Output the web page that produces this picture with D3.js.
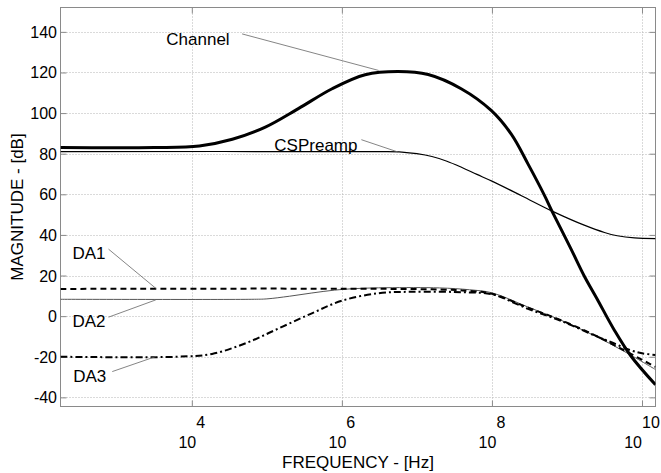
<!DOCTYPE html>
<html>
<head>
<meta charset="utf-8">
<script src="https://cdn.jsdelivr.net/npm/d3@7"></script>
<style>
  html, body { margin: 0; padding: 0; background: #fff; }
  svg { display: block; font-family: "Liberation Sans", Arial, Helvetica, sans-serif; }
</style>
</head>
<body>
<svg id="chart" width="661" height="473"></svg>
<script>
// Frequency responses, x as log10(frequency in Hz), y in dB
const channelLogF = [2.25, 3.5, 4.1, 4.54, 4.98, 5.42, 5.87, 6.31, 6.75, 7.15, 7.59, 7.99, 8.26, 8.48, 8.70, 8.81, 9.05, 9.23, 9.40, 9.63, 9.85, 10.18];
const channelDb   = [83, 83, 83.8, 87.1, 93.1, 102.2, 112, 118.9, 120.5, 119, 112, 101.3, 89.5, 75, 59.5, 51, 33.4, 19.8, 8.6, -6.8, -19.5, -33.8];

const preampLogF = [2.25, 6.5, 6.8, 7.0, 7.2, 7.4, 7.6, 7.8, 8.0, 8.4, 8.81, 9.23, 9.5, 9.67, 9.9, 10.18];
const preampDb   = [81, 81, 80.8, 80, 78.6, 76.3, 73.2, 69.8, 66.5, 59.2, 51.6, 44.8, 41.2, 39.6, 38.5, 38.2];

const da1LogF = [2.25, 7.2, 7.7, 8.0, 8.48, 8.92, 9.36, 9.76, 10.18];
const da1Db   = [13.4, 13.2, 12.4, 11, 4.2, -2, -9.2, -16.8, -25];

const da2LogF = [2.25, 4.8, 5.0, 5.3, 5.6, 5.9, 6.2, 6.6, 7.3, 7.7, 8.0, 8.48, 8.92, 9.36, 9.76, 10.18];
const da2Db   = [8.3, 8.3, 8.5, 9.8, 11.4, 12.8, 13.6, 14, 13.9, 13, 11.5, 4.5, -2, -9.5, -17.3, -26.3];

const da3LogF = [2.25, 3.8, 4.27, 4.72, 5.16, 5.6, 6.0, 6.49, 6.93, 7.68, 8.0, 8.48, 8.92, 9.36, 9.6, 9.85, 10.0, 10.18];
const da3Db   = [-20, -20, -18.6, -13.3, -6, 1.4, 7.6, 11.3, 12, 11.7, 10.8, 3.6, -2.3, -9.4, -13, -16.8, -18.3, -19.1];

// Axis ticks
const xTickExponents = [4, 6, 8, 10];
const yTicks = [-40, -20, 0, 20, 40, 60, 80, 100, 120, 140];

// Curve labels: text, label anchor, leader start and leader tip (log10 f, dB)
const labelNames  = ["Channel", "CSPreamp", "DA1", "DA2", "DA3"];
const labelAt     = [[3.66, 133.6], [5.10, 81.4], [2.41, 28.1], [2.41, -5.2], [2.42, -32.2]];
const leaderFrom  = [[4.67, 139.0], [6.26, 86.9], [2.89, 33.0], [2.89, -0.5], [2.94, -27.3]];
const leaderTo    = [[6.49, 121.0], [6.75, 80.8], [3.52, 13.7], [3.52, 8.0],  [3.52, -19.9]];

const svg = d3.select("#chart");
const plotLeft = 60.5, plotRight = 655.5, plotTop = 7.5, plotBottom = 406.5;

const x = d3.scaleLog().domain([Math.pow(10, 2.25), Math.pow(10, 10.18)]).range([plotLeft, plotRight]);
const y = d3.scaleLinear().domain([-44.5, 152]).range([plotBottom, plotTop]);
const px = lf => x(Math.pow(10, lf));

// Grid
const grid = svg.append("g").attr("stroke", "#b4b4b4").attr("stroke-width", 1).attr("stroke-dasharray", "1,2");
grid.selectAll("line.h").data(yTicks).join("line")
  .attr("x1", plotLeft).attr("x2", plotRight)
  .attr("y1", d => Math.round(y(d)) + 0.5).attr("y2", d => Math.round(y(d)) + 0.5);
grid.selectAll("line.v").data(xTickExponents).join("line")
  .attr("y1", plotTop).attr("y2", plotBottom)
  .attr("x1", d => Math.round(px(d)) + 0.5).attr("x2", d => Math.round(px(d)) + 0.5);

// Axes with inward ticks on all four sides
const axisColor = "#8a8a8a";
function styleAxis(g) {
  g.select(".domain").remove();
  g.selectAll(".tick line").attr("stroke", axisColor);
  g.selectAll(".tick text").remove();
}
const xVals = xTickExponents.map(e => Math.pow(10, e));
svg.append("g").attr("transform", `translate(${plotLeft},0)`)
  .call(d3.axisRight(y).tickValues(yTicks).tickSize(6)).call(styleAxis);
svg.append("g").attr("transform", `translate(${plotRight},0)`)
  .call(d3.axisLeft(y).tickValues(yTicks).tickSize(6)).call(styleAxis);
svg.append("g").attr("transform", `translate(0,${plotBottom})`)
  .call(d3.axisTop(x).tickValues(xVals).tickSize(6)).call(styleAxis);
svg.append("g").attr("transform", `translate(0,${plotTop})`)
  .call(d3.axisBottom(x).tickValues(xVals).tickSize(6)).call(styleAxis);

svg.append("rect").attr("x", plotLeft).attr("y", plotTop)
  .attr("width", plotRight - plotLeft).attr("height", plotBottom - plotTop)
  .attr("fill", "none").attr("stroke", axisColor).attr("stroke-width", 1);

// Tick labels
svg.append("g").selectAll("text").data(yTicks).join("text")
  .attr("x", 57).attr("y", d => y(d) + 6)
  .attr("text-anchor", "end").attr("font-size", 16).attr("fill", "#000")
  .text(d => d);

const xl = svg.append("g").selectAll("text").data(xTickExponents).join("text")
  .attr("x", d => px(d)).attr("y", 447.5)
  .attr("text-anchor", "middle").attr("font-size", 16).attr("fill", "#000");
xl.append("tspan").text("10");
xl.append("tspan").attr("dy", -20).text(d => d);

// Axis titles
svg.append("text").attr("x", (plotLeft + plotRight) / 2).attr("y", 467.5)
  .attr("text-anchor", "middle").attr("font-size", 17).text("FREQUENCY - [Hz]");
svg.append("text").attr("transform", `translate(23,${(plotTop + plotBottom) / 2}) rotate(-90)`)
  .attr("text-anchor", "middle").attr("font-size", 17).text("MAGNITUDE - [dB]");

// Curves
svg.append("clipPath").attr("id", "plotclip").append("rect")
  .attr("x", plotLeft).attr("y", plotTop).attr("width", plotRight - plotLeft).attr("height", plotBottom - plotTop);
const line = d3.line().x(d => px(d[0])).y(d => y(d[1])).curve(d3.curveCatmullRom.alpha(0.5));
const zip = (a, b) => a.map((v, i) => [v, b[i]]);

const plot = svg.append("g").attr("clip-path", "url(#plotclip)").attr("fill", "none");
plot.append("path").attr("d", line(zip(da2LogF, da2Db)))
  .attr("stroke", "#555").attr("stroke-width", 1);
plot.append("path").attr("d", line(zip(da1LogF, da1Db)))
  .attr("stroke", "#000").attr("stroke-width", 2).attr("stroke-dasharray", "6,4");
plot.append("path").attr("d", line(zip(da3LogF, da3Db)))
  .attr("stroke", "#000").attr("stroke-width", 2).attr("stroke-dasharray", "7,3,2,3");
plot.append("path").attr("d", line(zip(preampLogF, preampDb)))
  .attr("stroke", "#000").attr("stroke-width", 1.2);
plot.append("path").attr("d", line(zip(channelLogF, channelDb)))
  .attr("stroke", "#000").attr("stroke-width", 3);

// Labels with leader lines
const ann = svg.append("g");
labelNames.forEach((name, i) => {
  ann.append("line")
    .attr("x1", px(leaderFrom[i][0])).attr("y1", y(leaderFrom[i][1]))
    .attr("x2", px(leaderTo[i][0])).attr("y2", y(leaderTo[i][1]))
    .attr("stroke", "#666").attr("stroke-width", 0.8);
  ann.append("text")
    .attr("x", px(labelAt[i][0])).attr("y", y(labelAt[i][1]))
    .attr("font-size", 17).attr("fill", "#000").text(name);
});
</script>
</body>
</html>
